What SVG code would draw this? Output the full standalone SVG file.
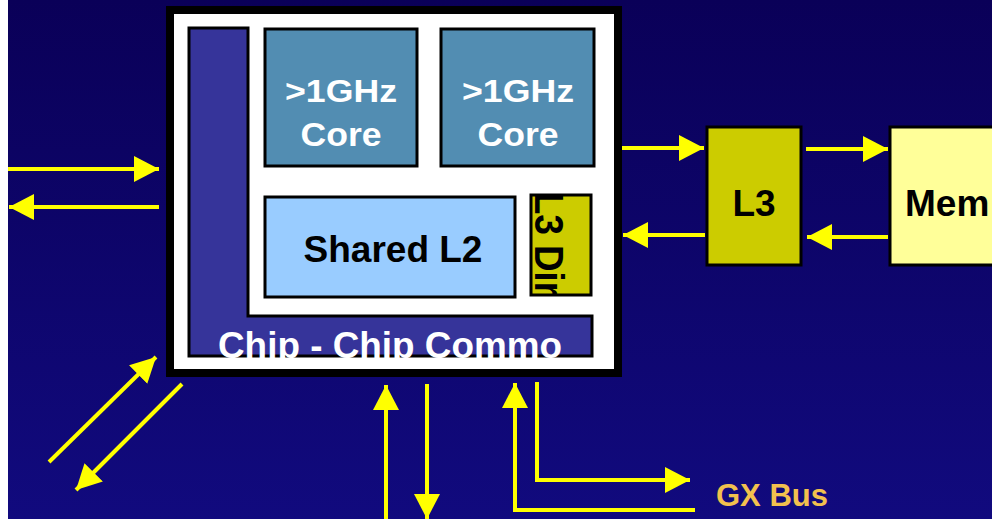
<svg xmlns="http://www.w3.org/2000/svg" width="992" height="519" viewBox="0 0 992 519">
<defs>
<linearGradient id="bg" x1="0" y1="0" x2="0" y2="1">
<stop offset="0" stop-color="#0a0058"/>
<stop offset="1" stop-color="#110a7e"/>
</linearGradient>
<marker id="ah" markerUnits="userSpaceOnUse" markerWidth="26" markerHeight="26" viewBox="0 0 26 26" refX="25" refY="13" orient="auto">
<path d="M0,0 L25,13 L0,26 Z" fill="#ffff00"/>
</marker>
<clipPath id="dirclip"><rect x="526" y="194" width="70" height="105"/></clipPath>
</defs>
<style>
.ln{fill:none;stroke:#ffff00;stroke-width:4;marker-end:url(#ah)}
.box{stroke:#000;stroke-width:3}
.t{font-family:"Liberation Sans",Arial,sans-serif;font-weight:bold}
.w{fill:#fff}
.k{fill:#000}
</style>
<rect x="0" y="0" width="992" height="519" fill="url(#bg)"/>
<rect x="0" y="0" width="8" height="519" fill="#fff"/>
<g id="chip">
<rect x="170" y="10" width="448" height="363" fill="#fff" stroke="#000" stroke-width="8"/>
</g>
<g id="comm">
<path d="M189,28 H248 V316 H592 V356 H189 Z" fill="#36349a" class="box"/>
<text class="t w" x="390" y="358" font-size="37" text-anchor="middle" textLength="344" lengthAdjust="spacingAndGlyphs">Chip - Chip Commo</text>
</g>
<g id="core1">
<rect x="265" y="29" width="152" height="137" fill="#528db2" class="box"/>
<text class="t w" x="341" y="102" font-size="32" text-anchor="middle" textLength="112" lengthAdjust="spacingAndGlyphs">&gt;1GHz</text>
<text class="t w" x="341" y="146" font-size="34" text-anchor="middle" textLength="81" lengthAdjust="spacingAndGlyphs">Core</text>
</g>
<g id="core2">
<rect x="441" y="29" width="153" height="137" fill="#528db2" class="box"/>
<text class="t w" x="518" y="102" font-size="32" text-anchor="middle" textLength="112" lengthAdjust="spacingAndGlyphs">&gt;1GHz</text>
<text class="t w" x="518" y="146" font-size="34" text-anchor="middle" textLength="81" lengthAdjust="spacingAndGlyphs">Core</text>
</g>
<g id="l2">
<rect x="265" y="197" width="250" height="100" fill="#99ccff" class="box"/>
<text class="t k" x="393" y="262" font-size="37" text-anchor="middle">Shared L2</text>
</g>
<g id="l3dir">
<rect x="531" y="195" width="60" height="100" fill="#cccc00" class="box"/>
<g clip-path="url(#dirclip)">
<text class="t k" font-size="40" transform="translate(535,192) rotate(90)" x="0" y="0" textLength="104" lengthAdjust="spacingAndGlyphs">L3 Dir</text>
</g>
</g>
<g id="l3">
<rect x="707" y="127" width="94" height="138" fill="#cccc00" class="box"/>
<text class="t k" x="754" y="216" font-size="37" text-anchor="middle">L3</text>
</g>
<g id="mem">
<rect x="890" y="127" width="110" height="138" fill="#ffff99" class="box"/>
<text class="t k" x="905" y="216" font-size="37">Mem</text>
</g>
<g id="gxbus">
<text class="t" x="716" y="506" font-size="31" fill="#f2c14e">GX Bus</text>
</g>
<g id="connectors">
<path class="ln" d="M8,169 H159"/>
<path class="ln" d="M159,207 H9"/>
<path class="ln" d="M49,462 L156,357"/>
<path class="ln" d="M182,384 L76,490"/>
<path class="ln" d="M622,148 H704"/>
<path class="ln" d="M705,235 H623"/>
<path class="ln" d="M806,149 H888"/>
<path class="ln" d="M888,237 H807"/>
<path class="ln" d="M386,519 V385"/>
<path class="ln" d="M427,384 V519"/>
<path class="ln" d="M695,510 H515 V383"/>
<path class="ln" d="M537,382 V480 H690"/>
</g>
</svg>
